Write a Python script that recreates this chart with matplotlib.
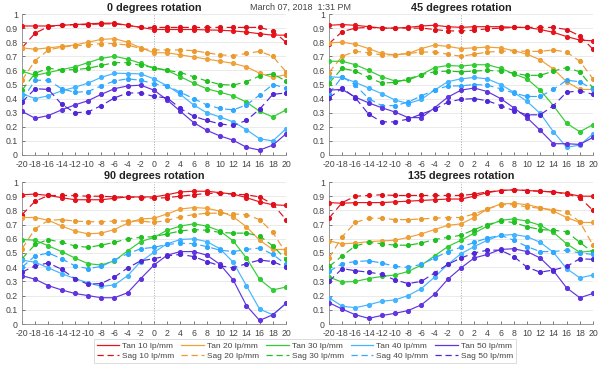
import matplotlib
matplotlib.use("Agg")
import matplotlib.pyplot as plt
from matplotlib.lines import Line2D

plt.rcParams["font.family"] = ["Liberation Sans", "DejaVu Sans"]
plt.rcParams["axes.unicode_minus"] = False

x = list(range(-20, 21, 2))
freqs = ["10", "20", "30", "40", "50"]
titles = ["0 degrees rotation", "45 degrees rotation", "90 degrees rotation", "135 degrees rotation"]
timestamp = "March 07, 2018  1:31 PM"

# 0 degrees
r0_tan = {
    "10": [0.915, 0.915, 0.915, 0.92, 0.925, 0.93, 0.935, 0.935, 0.92, 0.905, 0.89, 0.89, 0.89, 0.89, 0.887, 0.885, 0.88, 0.872, 0.86, 0.85, 0.85],
    "20": [0.76, 0.75, 0.76, 0.77, 0.78, 0.80, 0.82, 0.825, 0.80, 0.76, 0.725, 0.725, 0.71, 0.695, 0.68, 0.665, 0.65, 0.625, 0.58, 0.55, 0.57],
    "30": [0.595, 0.565, 0.585, 0.605, 0.625, 0.655, 0.685, 0.70, 0.68, 0.65, 0.615, 0.60, 0.555, 0.51, 0.47, 0.445, 0.42, 0.375, 0.31, 0.27, 0.32],
    "40": [0.435, 0.40, 0.42, 0.455, 0.48, 0.51, 0.55, 0.58, 0.578, 0.575, 0.54, 0.49, 0.43, 0.355, 0.30, 0.27, 0.235, 0.18, 0.115, 0.10, 0.185],
    "50": [0.31, 0.26, 0.28, 0.32, 0.355, 0.385, 0.43, 0.47, 0.49, 0.495, 0.46, 0.39, 0.31, 0.23, 0.175, 0.135, 0.105, 0.055, 0.035, 0.07, 0.15],
}
r0_sag = {
    "10": [0.76, 0.865, 0.91, 0.92, 0.925, 0.925, 0.93, 0.93, 0.92, 0.905, 0.905, 0.905, 0.905, 0.905, 0.905, 0.905, 0.905, 0.905, 0.905, 0.88, 0.80],
    "20": [0.53, 0.67, 0.745, 0.765, 0.775, 0.78, 0.79, 0.79, 0.78, 0.755, 0.745, 0.745, 0.745, 0.74, 0.725, 0.71, 0.705, 0.72, 0.735, 0.70, 0.59],
    "30": [0.46, 0.58, 0.615, 0.605, 0.605, 0.615, 0.635, 0.655, 0.655, 0.635, 0.62, 0.60, 0.585, 0.555, 0.525, 0.50, 0.495, 0.52, 0.56, 0.575, 0.525],
    "40": [0.39, 0.53, 0.53, 0.47, 0.445, 0.45, 0.49, 0.525, 0.54, 0.53, 0.505, 0.49, 0.445, 0.40, 0.355, 0.33, 0.32, 0.355, 0.425, 0.50, 0.475],
    "50": [0.375, 0.47, 0.465, 0.36, 0.30, 0.305, 0.35, 0.405, 0.44, 0.44, 0.415, 0.405, 0.33, 0.275, 0.245, 0.22, 0.21, 0.245, 0.325, 0.43, 0.44],
}
# 45 degrees
r45_tan = {
    "10": [0.92, 0.925, 0.92, 0.91, 0.90, 0.90, 0.905, 0.915, 0.92, 0.91, 0.905, 0.91, 0.91, 0.91, 0.905, 0.905, 0.89, 0.87, 0.84, 0.815, 0.81],
    "20": [0.795, 0.80, 0.785, 0.755, 0.72, 0.71, 0.72, 0.755, 0.78, 0.77, 0.755, 0.76, 0.765, 0.76, 0.74, 0.715, 0.675, 0.61, 0.52, 0.465, 0.465],
    "30": [0.665, 0.665, 0.64, 0.60, 0.555, 0.525, 0.53, 0.57, 0.62, 0.635, 0.63, 0.64, 0.64, 0.615, 0.575, 0.54, 0.46, 0.35, 0.225, 0.165, 0.215],
    "40": [0.555, 0.55, 0.515, 0.475, 0.435, 0.39, 0.365, 0.395, 0.46, 0.52, 0.54, 0.55, 0.54, 0.50, 0.445, 0.38, 0.295, 0.165, 0.055, 0.07, 0.15],
    "50": [0.46, 0.465, 0.41, 0.37, 0.335, 0.305, 0.265, 0.265, 0.335, 0.41, 0.46, 0.475, 0.45, 0.40, 0.335, 0.265, 0.175, 0.08, 0.08, 0.075, 0.125],
}
r45_sag = {
    "10": [0.79, 0.875, 0.90, 0.905, 0.90, 0.90, 0.90, 0.90, 0.89, 0.88, 0.88, 0.885, 0.895, 0.90, 0.905, 0.905, 0.905, 0.905, 0.89, 0.845, 0.75],
    "20": [0.585, 0.70, 0.735, 0.725, 0.71, 0.71, 0.72, 0.73, 0.73, 0.715, 0.70, 0.715, 0.73, 0.735, 0.74, 0.735, 0.735, 0.745, 0.73, 0.665, 0.54],
    "30": [0.51, 0.615, 0.595, 0.55, 0.51, 0.515, 0.54, 0.57, 0.59, 0.595, 0.59, 0.595, 0.60, 0.595, 0.58, 0.565, 0.565, 0.595, 0.62, 0.59, 0.475],
    "40": [0.435, 0.555, 0.495, 0.40, 0.35, 0.35, 0.375, 0.42, 0.46, 0.49, 0.49, 0.50, 0.495, 0.47, 0.44, 0.415, 0.415, 0.465, 0.53, 0.52, 0.465],
    "50": [0.405, 0.475, 0.405, 0.29, 0.235, 0.235, 0.255, 0.29, 0.325, 0.375, 0.395, 0.40, 0.385, 0.35, 0.315, 0.285, 0.285, 0.35, 0.445, 0.455, 0.43],
}
# 90 degrees
r90_tan = {
    "10": [0.91, 0.915, 0.905, 0.89, 0.875, 0.875, 0.875, 0.885, 0.895, 0.895, 0.895, 0.91, 0.93, 0.935, 0.935, 0.925, 0.915, 0.89, 0.86, 0.84, 0.835],
    "20": [0.75, 0.75, 0.73, 0.69, 0.655, 0.635, 0.64, 0.665, 0.71, 0.74, 0.745, 0.775, 0.81, 0.82, 0.815, 0.795, 0.755, 0.685, 0.59, 0.525, 0.525],
    "30": [0.595, 0.59, 0.55, 0.51, 0.465, 0.425, 0.415, 0.445, 0.515, 0.58, 0.61, 0.66, 0.69, 0.705, 0.69, 0.655, 0.585, 0.465, 0.315, 0.24, 0.26],
    "40": [0.45, 0.435, 0.395, 0.355, 0.32, 0.29, 0.265, 0.275, 0.34, 0.44, 0.505, 0.565, 0.595, 0.60, 0.58, 0.53, 0.435, 0.27, 0.105, 0.065, 0.145],
    "50": [0.34, 0.315, 0.27, 0.24, 0.215, 0.20, 0.185, 0.185, 0.22, 0.32, 0.415, 0.485, 0.51, 0.51, 0.485, 0.42, 0.31, 0.13, 0.025, 0.065, 0.145],
}
r90_sag = {
    "10": [0.77, 0.865, 0.905, 0.905, 0.905, 0.90, 0.90, 0.895, 0.895, 0.89, 0.885, 0.89, 0.90, 0.91, 0.92, 0.92, 0.915, 0.91, 0.895, 0.845, 0.735],
    "20": [0.53, 0.67, 0.73, 0.735, 0.725, 0.72, 0.72, 0.725, 0.725, 0.725, 0.715, 0.73, 0.755, 0.77, 0.78, 0.78, 0.775, 0.77, 0.735, 0.645, 0.50],
    "30": [0.46, 0.56, 0.595, 0.575, 0.55, 0.54, 0.555, 0.575, 0.60, 0.61, 0.615, 0.635, 0.655, 0.665, 0.66, 0.645, 0.64, 0.64, 0.62, 0.55, 0.455],
    "40": [0.40, 0.48, 0.50, 0.46, 0.41, 0.39, 0.405, 0.45, 0.495, 0.53, 0.54, 0.56, 0.57, 0.565, 0.545, 0.52, 0.51, 0.525, 0.535, 0.49, 0.42],
    "50": [0.365, 0.41, 0.43, 0.385, 0.32, 0.28, 0.285, 0.33, 0.395, 0.445, 0.46, 0.48, 0.49, 0.475, 0.44, 0.41, 0.395, 0.425, 0.45, 0.44, 0.40],
}
# 135 degrees
r135_tan = {
    "10": [0.855, 0.85, 0.855, 0.855, 0.855, 0.86, 0.865, 0.87, 0.875, 0.88, 0.88, 0.90, 0.925, 0.94, 0.945, 0.94, 0.935, 0.93, 0.92, 0.90, 0.90],
    "20": [0.585, 0.565, 0.57, 0.58, 0.585, 0.59, 0.61, 0.635, 0.665, 0.695, 0.705, 0.75, 0.81, 0.845, 0.85, 0.84, 0.82, 0.795, 0.75, 0.715, 0.715],
    "30": [0.33, 0.295, 0.30, 0.32, 0.335, 0.345, 0.37, 0.415, 0.48, 0.545, 0.59, 0.64, 0.69, 0.73, 0.74, 0.725, 0.695, 0.645, 0.565, 0.505, 0.515],
    "40": [0.185, 0.125, 0.115, 0.135, 0.16, 0.17, 0.20, 0.25, 0.33, 0.42, 0.495, 0.545, 0.59, 0.625, 0.63, 0.615, 0.575, 0.505, 0.39, 0.325, 0.345],
    "50": [0.15, 0.105, 0.065, 0.04, 0.06, 0.075, 0.095, 0.135, 0.21, 0.315, 0.395, 0.465, 0.49, 0.525, 0.53, 0.51, 0.465, 0.375, 0.255, 0.185, 0.215],
}
r135_sag = {
    "10": [0.745, 0.855, 0.90, 0.905, 0.91, 0.905, 0.905, 0.905, 0.905, 0.905, 0.905, 0.915, 0.93, 0.94, 0.945, 0.94, 0.935, 0.93, 0.915, 0.89, 0.80],
    "20": [0.465, 0.615, 0.715, 0.745, 0.745, 0.735, 0.735, 0.74, 0.745, 0.75, 0.75, 0.775, 0.81, 0.84, 0.84, 0.825, 0.815, 0.805, 0.79, 0.72, 0.555],
    "30": [0.405, 0.48, 0.55, 0.575, 0.565, 0.555, 0.555, 0.57, 0.595, 0.61, 0.625, 0.665, 0.70, 0.725, 0.715, 0.685, 0.665, 0.66, 0.65, 0.575, 0.505],
    "40": [0.37, 0.425, 0.44, 0.445, 0.43, 0.405, 0.40, 0.42, 0.465, 0.51, 0.54, 0.575, 0.605, 0.625, 0.59, 0.545, 0.51, 0.51, 0.52, 0.50, 0.49],
    "50": [0.30, 0.39, 0.375, 0.365, 0.35, 0.31, 0.285, 0.30, 0.36, 0.42, 0.465, 0.50, 0.52, 0.52, 0.475, 0.40, 0.365, 0.38, 0.405, 0.46, 0.455],
}

panels = [(r0_tan, r0_sag), (r45_tan, r45_sag), (r90_tan, r90_sag), (r135_tan, r135_sag)]

tan_colors = {"10": "#e8141c", "20": "#f0a038", "30": "#33cc33", "40": "#44b4ff", "50": "#6035e0"}
sag_colors = {"10": "#e0101a", "20": "#eb9a30", "30": "#22c022", "40": "#30a8ff", "50": "#5028d8"}

fig = plt.figure(figsize=(6.0, 3.67), dpi=100)
W, H = 600.0, 367.0
boxes = [(22, 14, 286, 155), (329, 14, 593, 155), (22, 182, 286, 324), (329, 182, 593, 324)]

yt = [i / 10 for i in range(11)]
ylabels = ["0"] + [f"{v:.1f}" for v in yt[1:-1]] + ["1"]

for (tan, sag), title, (x0, y0, x1, y1) in zip(panels, titles, boxes):
    ax = fig.add_axes([x0 / W, 1 - y1 / H, (x1 - x0) / W, (y1 - y0) / H])
    ax.set_xlim(-20, 20)
    ax.set_ylim(0, 1)
    ax.set_xticks(x)
    ax.set_xticklabels([str(v) for v in x])
    ax.set_yticks(yt)
    ax.set_yticklabels(ylabels)
    ax.tick_params(labelsize=6.3, colors="#444444", length=2, width=0.5, direction="in")
    ax.tick_params(axis="x", pad=3.5)
    ax.tick_params(axis="y", pad=3)
    ax.yaxis.grid(True, color="#e6e6e6", linewidth=0.6)
    ax.set_axisbelow(True)
    for s in ["top", "right"]:
        ax.spines[s].set_visible(False)
    for s in ["left", "bottom"]:
        ax.spines[s].set_color("#888888")
        ax.spines[s].set_linewidth(0.6)
    ax.axvline(0, color="#aaaaaa", linestyle=":", linewidth=0.7, zorder=1)
    for f in freqs:
        ax.plot(x, tan[f], color=tan_colors[f], linewidth=0.85, marker="o", markersize=2.7, zorder=3)
        ax.plot(x, sag[f], color=sag_colors[f], linewidth=0.85, linestyle=(0, (6, 3.5)), marker="o", markersize=2.7, zorder=3)
    ax.set_title(title, fontsize=7.8, fontweight="bold", color="#222222", pad=2)

fig.text(0.5, 1 - 7.5 / H, timestamp, ha="center", va="center", fontsize=6.5, color="#444444")

handles = []
labels = []
for f in freqs:
    handles.append(Line2D([], [], color=tan_colors[f], linewidth=0.9))
    labels.append(f"Tan {f} lp/mm")
    handles.append(Line2D([], [], color=sag_colors[f], linewidth=0.9, linestyle=(0, (5, 3))))
    labels.append(f"Sag {f} lp/mm")

leg = fig.legend(handles, labels, ncol=5, loc="center", bbox_to_anchor=(305 / W, 1 - 351 / H),
                 fontsize=6, frameon=True, handlelength=2.7, handletextpad=0.4, columnspacing=0.8,
                 labelspacing=0.3, borderpad=0.35, fancybox=False, edgecolor="#cccccc")
leg.get_frame().set_linewidth(0.6)
for t in leg.get_texts():
    t.set_color("#444444")

fig.savefig("out.png", dpi=100)
